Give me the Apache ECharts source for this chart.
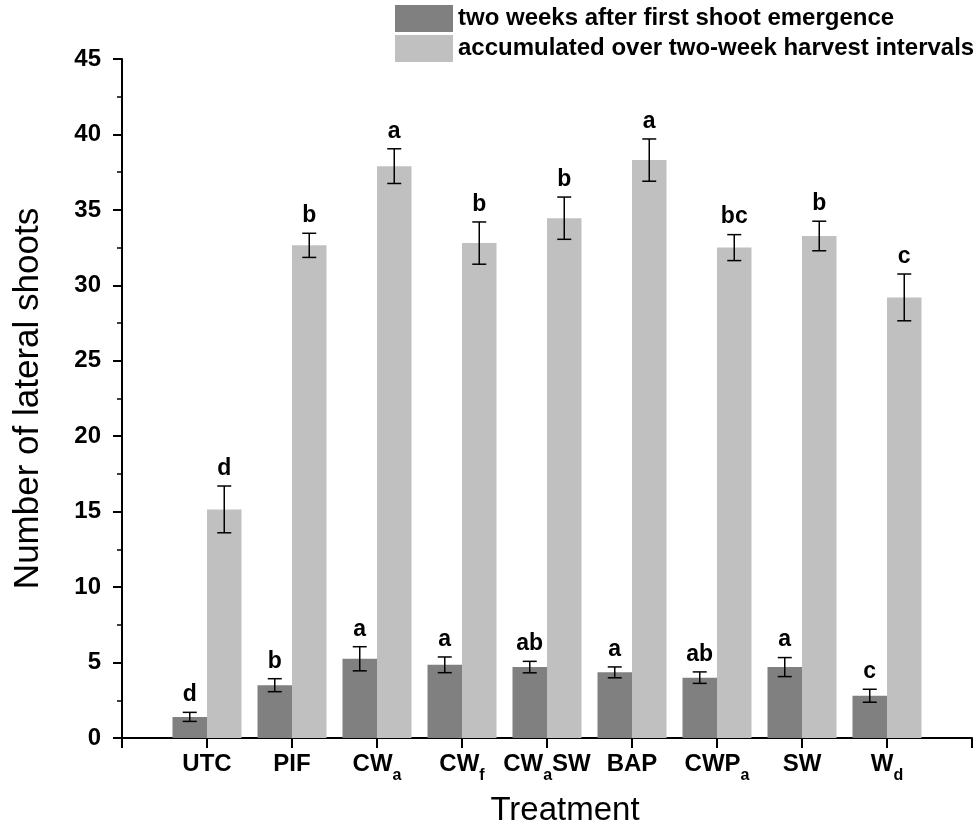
<!DOCTYPE html>
<html>
<head>
<meta charset="utf-8">
<script src="https://cdn.jsdelivr.net/npm/echarts@6/dist/echarts.min.js"></script>
<style>
html,body{margin:0;padding:0;background:#fff;}
#chart{width:976px;height:832px;}
</style>
</head>
<body>
<div id="chart"></div>
<script>
// ---- data ----
var categories = ['UTC', 'PIF', 'CW_a', 'CW_f', 'CW_aSW', 'BAP', 'CWP_a', 'SW', 'W_d'];
var seriesNames = ['two weeks after first shoot emergence', 'accumulated over two-week harvest intervals'];
var twoWeeksMean = [1.4, 3.5, 5.25, 4.85, 4.7, 4.35, 4.0, 4.7, 2.8];
var twoWeeksErr = [0.3, 0.43, 0.8, 0.52, 0.38, 0.36, 0.38, 0.63, 0.43];
var twoWeeksLetters = ['d', 'b', 'a', 'a', 'ab', 'a', 'ab', 'a', 'c'];
var accumMean = [15.15, 32.65, 37.9, 32.8, 34.45, 38.3, 32.5, 33.27, 29.2];
var accumErr = [1.55, 0.8, 1.15, 1.4, 1.4, 1.4, 0.86, 0.98, 1.55];
var accumLetters = ['d', 'b', 'a', 'b', 'b', 'a', 'bc', 'b', 'c'];
var yTicks = {min: 0, max: 45, interval: 5};

// ---- build ----
var FONT = '"Liberation Sans", Arial, Helvetica, sans-serif';
var axisCats = [''].concat(categories).concat(['']);
function pad(arr) { return ['-'].concat(arr).concat(['-']); }

function fmtLabel(s) {
  if (!s) return '';
  var out = '';
  var i = 0;
  var buf = '';
  while (i < s.length) {
    if (s[i] === '_' && i + 1 < s.length) {
      if (buf) out += '{b|' + buf + '}';
      buf = '';
      out += '{s|' + s[i + 1] + '}';
      i += 2;
    } else {
      buf += s[i];
      i++;
    }
  }
  if (buf) out += '{b|' + buf + '}';
  return out;
}

var BAR_W = 34.5;
function errSeries(name, means, errs, letters, offset) {
  var data = means.map(function (m, i) { return [i + 1, m, errs[i]]; });
  return {
    type: 'custom',
    name: name + '_err',
    z: 10,
    silent: true,
    data: data,
    renderItem: function (params, api) {
      var idx = api.value(0), m = api.value(1), e = api.value(2);
      var top = api.coord([idx, m + e]);
      var bot = api.coord([idx, m - e]);
      var x = top[0] + offset;
      var cap = 7;
      var ls = {stroke: '#000', lineWidth: 1.5};
      return {
        type: 'group',
        children: [
          {type: 'line', shape: {x1: x, y1: top[1], x2: x, y2: bot[1]}, style: ls},
          {type: 'line', shape: {x1: x - cap, y1: top[1], x2: x + cap, y2: top[1]}, style: ls},
          {type: 'line', shape: {x1: x - cap, y1: bot[1], x2: x + cap, y2: bot[1]}, style: ls},
          {type: 'text', style: {
            text: letters[params.dataIndex], x: x, y: top[1] - 6,
            textAlign: 'center', textVerticalAlign: 'bottom',
            fontSize: 23, fontWeight: 'bold', fontFamily: FONT, fill: '#000'
          }}
        ]
      };
    }
  };
}

var chart = echarts.init(document.getElementById('chart'), null, {renderer: 'canvas'});
chart.setOption({
  backgroundColor: '#ffffff',
  animation: false,
  legend: {
    data: seriesNames,
    orient: 'vertical',
    left: 395,
    top: 5,
    padding: 0,
    itemWidth: 58,
    itemHeight: 27,
    itemGap: 3,
    icon: 'rect',
    textStyle: {fontSize: 24, fontWeight: 'bold', fontFamily: FONT, color: '#000'}
  },
  grid: {left: 122, right: 4, top: 59, bottom: 89, containLabel: false},
  xAxis: {
    type: 'category',
    data: axisCats,
    boundaryGap: false,
    name: 'Treatment',
    nameLocation: 'middle',
    nameGap: 56,
    nameTextStyle: {fontSize: 33, fontFamily: FONT, color: '#000', padding: [0, 0, 0, 36]},
    axisLine: {lineStyle: {color: '#000', width: 2}},
    axisTick: {show: true, length: 10, inside: false, interval: 0, lineStyle: {color: '#000', width: 2}},
    axisLabel: {
      interval: 0,
      margin: 14,
      color: '#000',
      formatter: function (v) { return fmtLabel(v); },
      rich: {
        b: {fontSize: 24, fontWeight: 'bold', fontFamily: FONT, color: '#000', lineHeight: 26, verticalAlign: 'top'},
        s: {fontSize: 16, fontWeight: 'bold', fontFamily: FONT, color: '#000', lineHeight: 32, verticalAlign: 'bottom'}
      }
    },
    splitLine: {show: false}
  },
  yAxis: {
    type: 'value',
    min: yTicks.min,
    max: yTicks.max,
    interval: yTicks.interval,
    name: 'Number of lateral shoots',
    nameLocation: 'middle',
    nameGap: 76,
    nameTextStyle: {fontSize: 35, fontFamily: FONT, color: '#000'},
    axisLine: {show: true, lineStyle: {color: '#000', width: 2}},
    axisTick: {show: true, length: 9, lineStyle: {color: '#000', width: 2}},
    minorTick: {show: true, splitNumber: 2, length: 5, lineStyle: {color: '#000', width: 1.5}},
    axisLabel: {margin: 21, fontSize: 24, fontWeight: 'bold', fontFamily: FONT, color: '#000'},
    splitLine: {show: false}
  },
  series: [
    {
      type: 'bar', name: seriesNames[0], data: pad(twoWeeksMean),
      barWidth: BAR_W, barGap: '0%',
      itemStyle: {color: '#808080'}
    },
    {
      type: 'bar', name: seriesNames[1], data: pad(accumMean),
      barWidth: BAR_W, barGap: '0%',
      itemStyle: {color: '#c0c0c0'}
    },
    errSeries(seriesNames[0], twoWeeksMean, twoWeeksErr, twoWeeksLetters, -BAR_W / 2),
    errSeries(seriesNames[1], accumMean, accumErr, accumLetters, BAR_W / 2)
  ]
});
</script>
</body>
</html>
